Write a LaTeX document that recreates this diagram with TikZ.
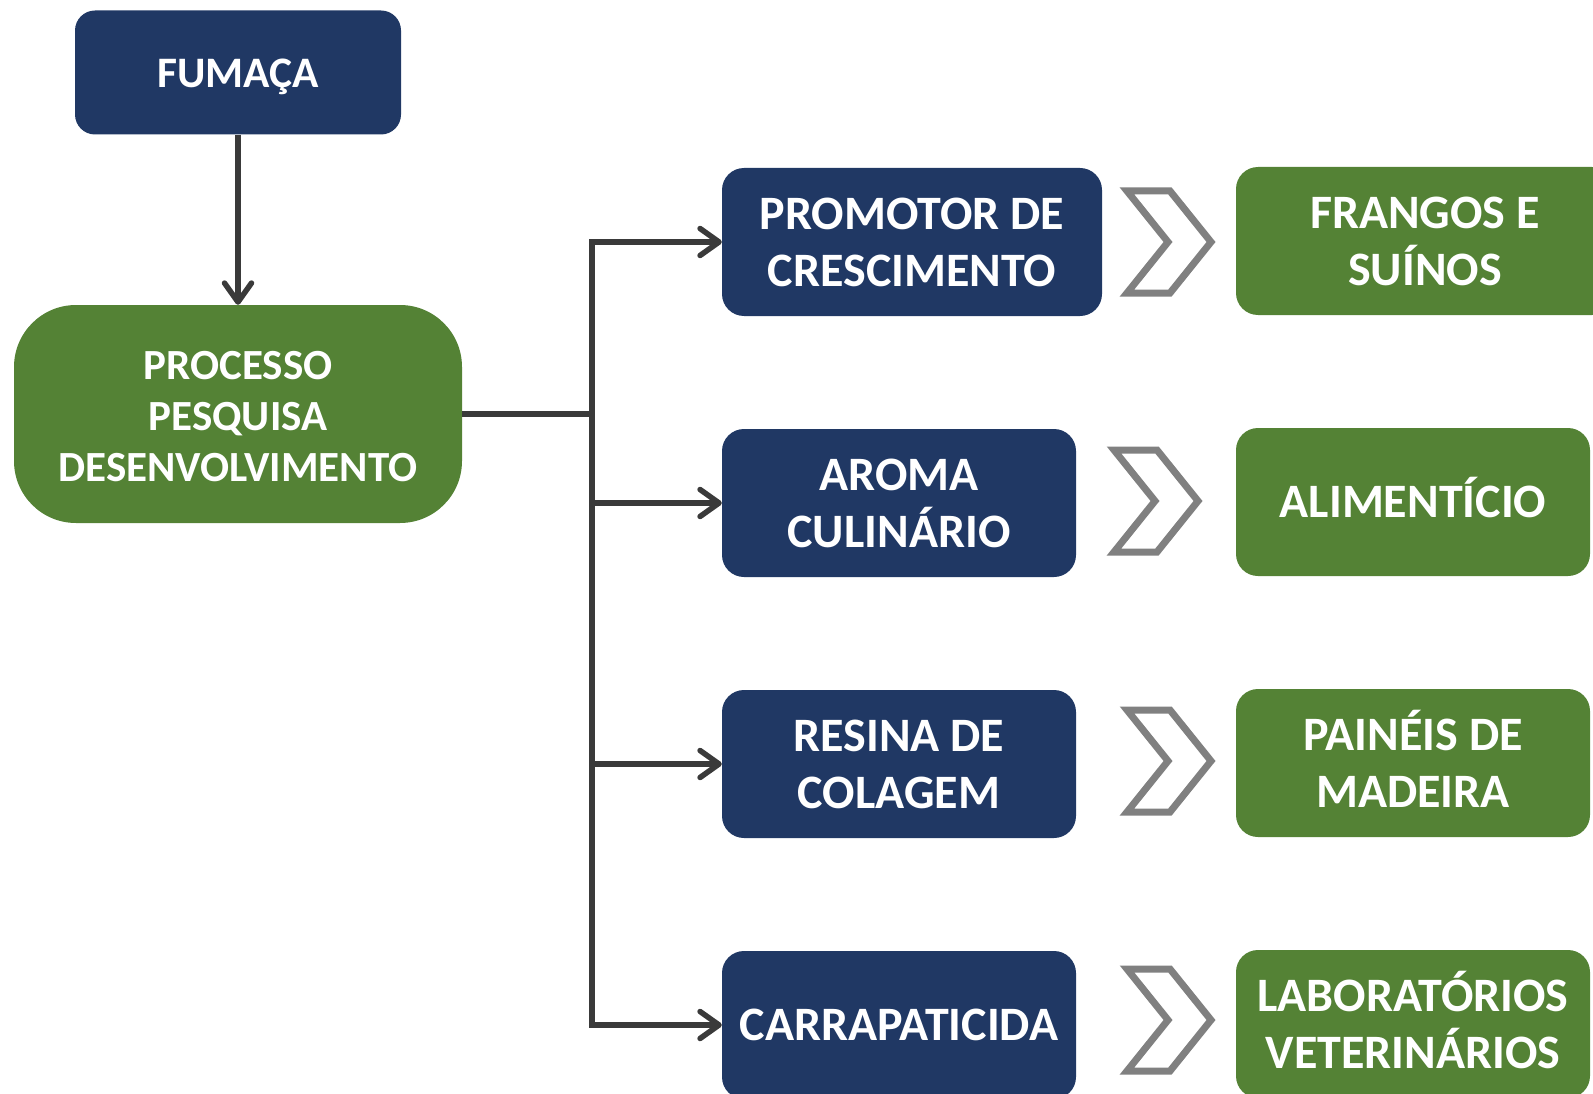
\documentclass[tikz,border=0pt]{standalone}
\usepackage{fontspec}
\setmainfont{Carlito}
\usetikzlibrary{arrows.meta}
\definecolor{navy}{HTML}{203864}
\definecolor{leaf}{HTML}{548235}
\definecolor{linegray}{HTML}{3A3A3A}
\definecolor{chevgray}{HTML}{808080}
\newlength\capA \newlength\capB \newlength\capC
\begin{document}
\settoheight\capA{\fontsize{48}{57}\selectfont\bfseries H}%
\settoheight\capB{\fontsize{43}{51}\selectfont\bfseries H}%
\settoheight\capC{\fontsize{43.5}{51}\selectfont\bfseries H}%
\begin{tikzpicture}[x=1pt,y=-1pt,
  box/.style={text=white, align=center, inner sep=0pt, minimum height=148pt,
    rounded corners=22pt, font=\bfseries\fontsize{48}{57}\selectfont,
    text height=\capA, text depth=0pt},
  twolines/.style={text height=\capA+57pt},
  bluebox/.style={box, fill=navy},
  greenbox/.style={box, fill=leaf},
  conn/.style={draw=linegray, line width=5.5pt},
  arr/.style={conn, -{Straight Barb[length=19pt,width=27pt,line cap=round,line join=round]}},
  chev/.style={draw=chevgray, line width=7pt, fill=white}]
\useasboundingbox (0,0) rectangle (1593,1094);
\clip (0,0) rectangle (1593,1094);

% top nodes
\node[bluebox, minimum width=326pt, minimum height=124pt, rounded corners=20pt,
  font=\bfseries\fontsize{43.5}{51}\selectfont, text height=\capC+2pt, text depth=0pt]
  (fum) at (238,72.5) {FUMAÇA};
\node[greenbox, minimum width=448pt, minimum height=218pt, rounded corners=62pt,
  font=\bfseries\fontsize{43}{51}\selectfont, text height=\capB+107pt, text depth=0pt]
  (proc) at (238,414) {PROCESSO\\PESQUISA\\DESENVOLVIMENTO};

% blue column
\node[bluebox, twolines, minimum width=380pt] (b1) at (912,242) {PROMOTOR DE\\CRESCIMENTO};
\node[bluebox, twolines, minimum width=354pt] (b2) at (899,503) {AROMA\\CULINÁRIO};
\node[bluebox, twolines, minimum width=354pt] (b3) at (899,764) {RESINA DE\\COLAGEM};
\node[bluebox, minimum width=354pt] (b4) at (899,1025) {CARRAPATICIDA};

% green column
\node[greenbox, twolines, minimum width=378pt] (g1) at (1425,241) {FRANGOS E\\SUÍNOS};
\node[greenbox, minimum width=354pt] (g2) at (1413,502) {ALIMENTÍCIO};
\node[greenbox, twolines, minimum width=354pt] (g3) at (1413,763) {PAINÉIS DE\\MADEIRA};
\node[greenbox, twolines, minimum width=354pt] (g4) at (1413,1024) {LABORATÓRIOS\\VETERINÁRIOS};

% chevrons
\foreach \L/\M in {1127/242, 1114/501, 1127/761, 1127/1020}{
  \draw[chev, miter limit=10] (\L,\M-51) -- ++(43,0) -- ++(41,51) -- ++(-41,51)
    -- ++(-43,0) -- ++(41,-51) -- cycle;
}

% connectors
\draw[arr] (fum.south) -- (proc.north);
\draw[conn] (proc.east) -- ++(130,0) coordinate (j);
\draw[conn, line cap=rect] (j |- b1.west) -- (j |- b4.west);
\draw[arr] (j |- b1.west) -- (b1.west);
\draw[arr] (j |- b2.west) -- (b2.west);
\draw[arr] (j |- b3.west) -- (b3.west);
\draw[arr] (j |- b4.west) -- (b4.west);
\end{tikzpicture}
\end{document}
